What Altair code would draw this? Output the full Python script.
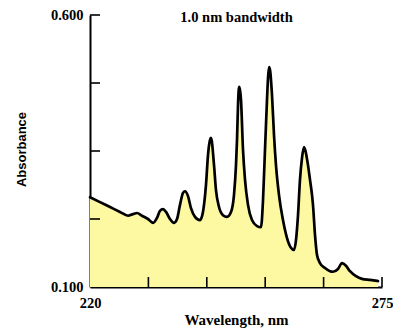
import altair as alt
import pandas as pd

# Spectrum
wavelength = [
    220.00, 221.88, 223.77, 225.65, 227.16, 228.10, 228.85, 229.79, 230.92, 231.87,
    232.62, 233.18, 233.75, 234.32, 235.07, 235.82, 236.39, 236.95, 237.52, 237.89,
    238.46, 239.02, 239.78, 240.72, 241.28, 241.85, 242.23, 242.60, 242.79, 243.36,
    243.73, 244.30, 245.05, 245.80, 246.56, 247.12, 247.50, 247.69, 247.88, 248.07,
    248.25, 248.44, 248.82, 249.20, 249.76, 250.51, 251.46, 252.21, 252.59, 252.96,
    253.34, 253.53, 253.72, 253.91, 254.28, 254.66, 255.03, 255.60, 256.35, 257.11,
    257.86, 258.42, 258.80, 259.18, 259.55, 259.93, 260.31, 260.68, 261.06, 261.44,
    261.82, 262.00, 262.38, 262.76, 263.32, 264.27, 265.21, 265.77, 266.71, 267.47,
    268.22, 268.97, 270.10, 271.23, 272.74, 274.25,
]
absorbance = [
    0.265, 0.256, 0.247, 0.238, 0.231, 0.234, 0.236, 0.231, 0.225, 0.218,
    0.227, 0.240, 0.243, 0.238, 0.225, 0.218, 0.225, 0.251, 0.273, 0.276,
    0.267, 0.245, 0.229, 0.223, 0.238, 0.288, 0.343, 0.370, 0.374, 0.324,
    0.278, 0.247, 0.232, 0.229, 0.238, 0.269, 0.324, 0.370, 0.435, 0.468,
    0.462, 0.444, 0.352, 0.297, 0.251, 0.223, 0.212, 0.210, 0.260, 0.352,
    0.444, 0.484, 0.504, 0.499, 0.453, 0.379, 0.324, 0.269, 0.223, 0.190,
    0.172, 0.168, 0.186, 0.232, 0.297, 0.337, 0.357, 0.346, 0.324, 0.297,
    0.269, 0.251, 0.196, 0.159, 0.144, 0.135, 0.129, 0.128, 0.133, 0.144,
    0.139, 0.129, 0.120, 0.115, 0.113, 0.111,
]

x_label_values = [220, 275]
y_label_values = [0.1, 0.6]
x_tick_values = [231, 242, 253, 264, 275]
y_tick_values = [0.225, 0.35, 0.475, 0.6]

note_text = ["1.0 nm bandwidth"]
note_x = [247.6]
note_y = [0.594]

df = pd.DataFrame({"nm": wavelength, "A": absorbance})
xticks_df = pd.DataFrame({"nm": x_tick_values})
yticks_df = pd.DataFrame({"A": y_tick_values})
note_df = pd.DataFrame({"t": note_text, "nm": note_x, "A": note_y})

xscale = alt.Scale(domain=[220, 275], nice=False, zero=False)
yscale = alt.Scale(domain=[0.1, 0.6], nice=False, zero=False)

area = alt.Chart(df).mark_area(color="#fcf9a2", interpolate="monotone").encode(
    x=alt.X(
        "nm:Q", scale=xscale,
        axis=alt.Axis(
            values=x_label_values, format="d", title="Wavelength, nm",
            ticks=False, tickSize=0, labelPadding=9, labelFlush=False,
            titleFont="Liberation Serif", titleFontWeight="bold", titleFontSize=15,
            titleY=37, titleBaseline="alphabetic",
        ),
    ),
    y=alt.Y(
        "A:Q", scale=yscale,
        axis=alt.Axis(
            values=y_label_values, format=".3f", title="Absorbance",
            ticks=False, tickSize=0, labelPadding=7, labelFlush=False,
            titleFont="Liberation Sans", titleFontWeight="bold", titleFontSize=13,
            titleX=-69, titleY=134, titleAlign="center", titleBaseline="middle",
        ),
    ),
    y2=alt.datum(0.1),
)

line = alt.Chart(df).mark_line(
    color="black", strokeWidth=2.7, interpolate="monotone", strokeJoin="round", strokeCap="round"
).encode(
    x=alt.X("nm:Q", scale=xscale),
    y=alt.Y("A:Q", scale=yscale),
)

yticks = alt.Chart(yticks_df).mark_rule(color="black", strokeWidth=1.6).encode(
    y=alt.Y("A:Q", scale=yscale),
    x=alt.value(0),
    x2=alt.value(10),
)

xticks = alt.Chart(xticks_df).mark_rule(color="black", strokeWidth=1.6).encode(
    x=alt.X("nm:Q", scale=xscale),
    y=alt.value(272),
    y2=alt.value(262),
)

note = alt.Chart(note_df).mark_text(
    font="Liberation Serif", fontWeight="bold", fontSize=14.5, color="black"
).encode(
    x=alt.X("nm:Q", scale=xscale),
    y=alt.Y("A:Q", scale=yscale),
    text="t:N",
)

chart = alt.layer(area, line, yticks, xticks, note).properties(
    width=292,
    height=272,
    autosize=alt.AutoSizeParams(type="none"),
    padding={"left": 82, "top": 7, "right": 11, "bottom": 41},
    background="white",
).configure_view(stroke=None).configure_axis(
    grid=False,
    domainColor="black",
    domainWidth=2,
    labelFont="Liberation Serif",
    labelFontWeight="bold",
    labelFontSize=14.5,
    labelColor="black",
    titleColor="black",
)

chart.save("out.html", embed_options={"renderer": "svg", "actions": False})
